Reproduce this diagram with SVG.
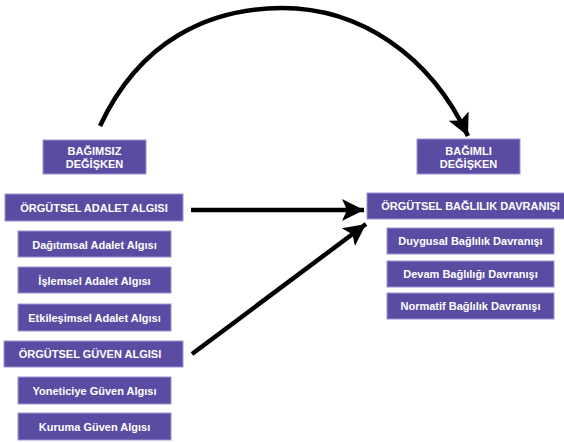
<svg xmlns="http://www.w3.org/2000/svg" width="564" height="442" viewBox="0 0 564 442">
<defs>
<marker id="ah" markerUnits="userSpaceOnUse" markerWidth="24" markerHeight="24" viewBox="0 0 24 24" refX="22" refY="12" orient="auto">
<path d="M0,1 L22,12 L0,23 L5,12 Z" fill="#000"/>
</marker>
<style>
.b{fill:#5a4ca2;stroke:#9c93d0;stroke-width:1}
.t{fill:#fff;font-family:"Liberation Sans",Arial,sans-serif;font-weight:bold;font-size:11px;text-anchor:middle}
.c{fill:none;stroke:#000;stroke-width:4.5;marker-end:url(#ah)}
</style>
</defs>
<rect width="564" height="442" fill="#fff"/>
<g id="connectors">
<path class="c" d="M100,126 C140,40 210,8 282,8 C360,8 430,55 468,136"/>
<path class="c" d="M191,210 L364,210"/>
<path class="c" d="M192,354 L366,224"/>
</g>
<g id="bagimsiz"><rect class="b" x="43" y="140" width="103" height="34"/><text class="t" x="94.5" y="155">BAĞIMSIZ</text><text class="t" x="94.5" y="168">DEĞİŞKEN</text></g>
<g id="bagimli"><rect class="b" x="417" y="139" width="103" height="35"/><text class="t" x="468.5" y="155">BAĞIMLI</text><text class="t" x="468.5" y="168">DEĞİŞKEN</text></g>
<g id="adalet"><rect class="b" x="5" y="194" width="178" height="27"/><text class="t" x="94" y="212">ÖRGÜTSEL ADALET ALGISI</text></g>
<g id="dagitimsal"><rect class="b" x="18" y="231" width="153" height="26"/><text class="t" x="94.5" y="248.5">Dağıtımsal Adalet Algısı</text></g>
<g id="islemsel"><rect class="b" x="18" y="267" width="153" height="26"/><text class="t" x="94.5" y="284.5">İşlemsel Adalet Algısı</text></g>
<g id="etkilesimsel"><rect class="b" x="18" y="304" width="153" height="27"/><text class="t" x="94.5" y="321.5">Etkileşimsel Adalet Algısı</text></g>
<g id="guven"><rect class="b" x="4" y="341" width="179" height="26"/><text class="t" x="90" y="358">ÖRGÜTSEL GÜVEN ALGISI</text></g>
<g id="yonetici"><rect class="b" x="18" y="377" width="153" height="27"/><text class="t" x="94.5" y="394.5">Yoneticiye Güven Algısı</text></g>
<g id="kuruma"><rect class="b" x="18" y="413" width="153" height="27"/><text class="t" x="94.5" y="430.5">Kuruma Güven Algısı</text></g>
<g id="baglilik"><rect class="b" x="367" y="193" width="210" height="26"/><text class="t" x="470.5" y="210">ÖRGÜTSEL BAĞLILIK DAVRANIŞI</text></g>
<g id="duygusal"><rect class="b" x="387" y="228" width="167" height="26"/><text class="t" x="470.5" y="245">Duygusal Bağlılık Davranışı</text></g>
<g id="devam"><rect class="b" x="387" y="261" width="167" height="26"/><text class="t" x="470.5" y="278">Devam Bağlılığı Davranışı</text></g>
<g id="normatif"><rect class="b" x="387" y="293" width="167" height="26"/><text class="t" x="470.5" y="310">Normatif Bağlılık Davranışı</text></g>
</svg>
